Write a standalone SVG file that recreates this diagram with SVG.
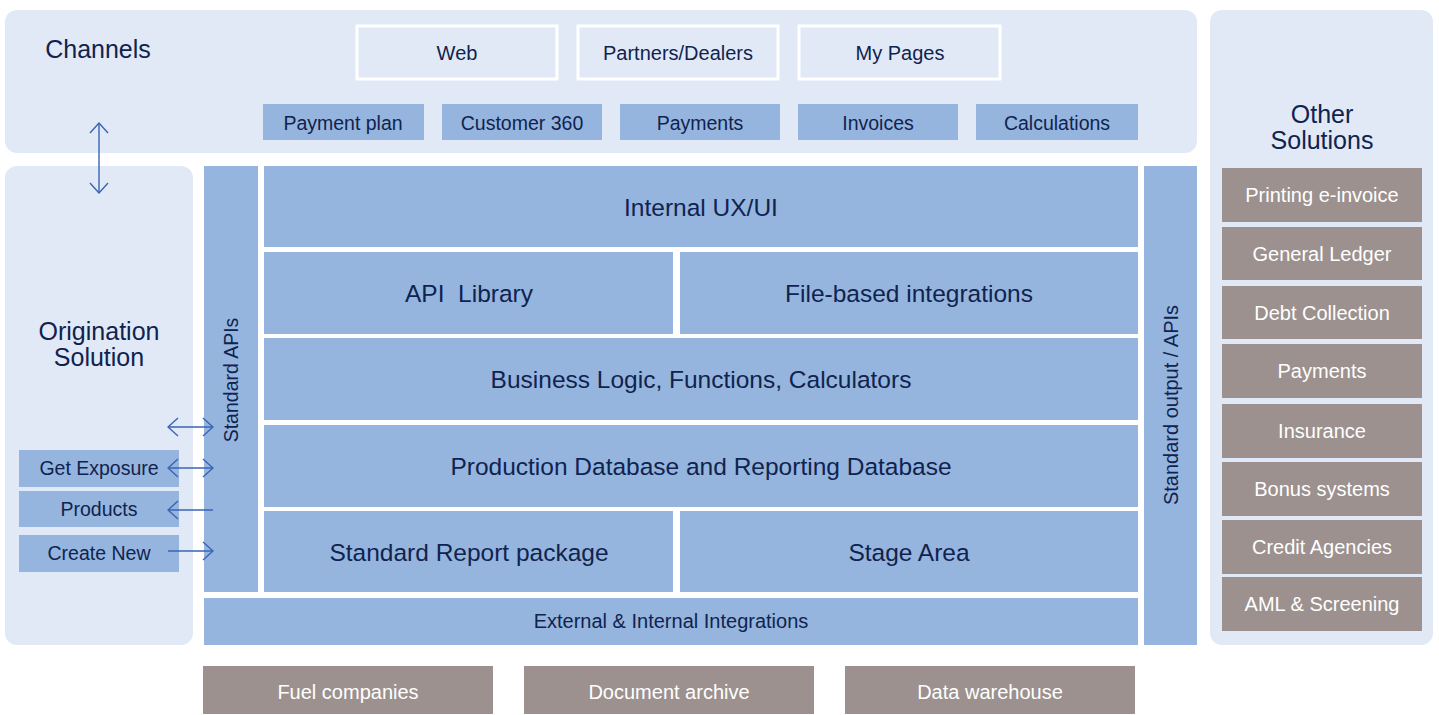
<svg xmlns="http://www.w3.org/2000/svg" width="1439" height="715" viewBox="0 0 1439 715">
<defs>
<style>
.panel{fill:#e1e9f6}
.blue{fill:#95b5de}
.brown{fill:#9c918e}
.ch{fill:#e1e9f6;stroke:#ffffff;stroke-width:3}
text{font-family:"Liberation Sans",Arial,sans-serif;fill:#10234f;text-anchor:middle;dominant-baseline:central}
.s18{font-size:19.5px}
.s20{font-size:20px}
.s22{font-size:24.5px}
.h{font-size:25px}
.w{fill:#ffffff;font-size:20px}
.con{stroke:#3a64b3;stroke-width:1.4;fill:none}
</style>
<marker id="ah" viewBox="0 0 12 20" refX="11" refY="10" markerWidth="12" markerHeight="20" markerUnits="userSpaceOnUse" orient="auto-start-reverse">
<path d="M1,1 L11,10 L1,19" fill="none" stroke="#3a64b3" stroke-width="1.4"/>
</marker>
</defs>
<rect width="1439" height="715" fill="#ffffff"/>

<g id="channels">
<rect class="panel" x="5" y="10" width="1192" height="143" rx="12"/>
<text x="98" y="49" class="h">Channels</text>
</g>
<g id="origination">
<rect class="panel" x="5" y="166" width="188" height="479" rx="12"/>
<text x="99" y="331" class="h">Origination</text>
<text x="99" y="357" class="h">Solution</text>
</g>
<g id="other-solutions">
<rect class="panel" x="1210" y="10" width="223" height="635" rx="12"/>
<text x="1322" y="114" class="h">Other</text>
<text x="1322" y="140" class="h">Solutions</text>
</g>

<g id="web"><rect class="ch" x="357" y="26" width="200" height="53"/><text x="457" y="53" class="s20">Web</text></g>
<g id="partners"><rect class="ch" x="578" y="26" width="200" height="53"/><text x="678" y="53" class="s20">Partners/Dealers</text></g>
<g id="mypages"><rect class="ch" x="799" y="26" width="201" height="53"/><text x="900" y="53" class="s20">My Pages</text></g>

<g id="payment-plan"><rect class="blue" x="263" y="104" width="161" height="36"/><text x="343" y="123" class="s18">Payment plan</text></g>
<g id="customer360"><rect class="blue" x="442" y="104" width="160" height="36"/><text x="522" y="123" class="s18">Customer 360</text></g>
<g id="payments-ch"><rect class="blue" x="620" y="104" width="160" height="36"/><text x="700" y="123" class="s18">Payments</text></g>
<g id="invoices"><rect class="blue" x="798" y="104" width="160" height="36"/><text x="878" y="123" class="s18">Invoices</text></g>
<g id="calculations"><rect class="blue" x="976" y="104" width="162" height="36"/><text x="1057" y="123" class="s18">Calculations</text></g>

<g id="standard-apis"><rect class="blue" x="204" y="166" width="54" height="426"/><text transform="translate(231,380) rotate(-90)" class="s18">Standard APIs</text></g>
<g id="internal-ux"><rect class="blue" x="264" y="166" width="874" height="81"/><text x="701" y="207" class="s22">Internal UX/UI</text></g>
<g id="api-library"><rect class="blue" x="264" y="252" width="409" height="82"/><text x="469" y="293" class="s22" xml:space="preserve">API  Library</text></g>
<g id="file-based"><rect class="blue" x="680" y="252" width="458" height="82"/><text x="909" y="293" class="s22">File-based integrations</text></g>
<g id="business-logic"><rect class="blue" x="264" y="338" width="874" height="82"/><text x="701" y="379" class="s22">Business Logic, Functions, Calculators</text></g>
<g id="production-db"><rect class="blue" x="264" y="425" width="874" height="82"/><text x="701" y="466" class="s22">Production Database and Reporting Database</text></g>
<g id="standard-report"><rect class="blue" x="264" y="511" width="409" height="81"/><text x="469" y="552" class="s22">Standard Report package</text></g>
<g id="stage-area"><rect class="blue" x="680" y="511" width="458" height="81"/><text x="909" y="552" class="s22">Stage Area</text></g>
<g id="ext-int"><rect class="blue" x="204" y="598" width="934" height="47"/><text x="671" y="621" class="s20">External &amp; Internal Integrations</text></g>
<g id="standard-output"><rect class="blue" x="1144" y="166" width="53" height="479"/><text transform="translate(1171,405) rotate(-90)" class="s20">Standard output / APIs</text></g>

<g id="get-exposure"><rect class="blue" x="19" y="450" width="160" height="37"/><text x="99" y="468" class="s18">Get Exposure</text></g>
<g id="products"><rect class="blue" x="19" y="491" width="160" height="36"/><text x="99" y="509" class="s18">Products</text></g>
<g id="create-new"><rect class="blue" x="19" y="535" width="160" height="37"/><text x="99" y="553" class="s18">Create New</text></g>

<g id="fuel"><rect class="brown" x="203" y="666" width="290" height="48"/><text x="348" y="692" class="w">Fuel companies</text></g>
<g id="document-archive"><rect class="brown" x="524" y="666" width="290" height="48"/><text x="669" y="692" class="w">Document archive</text></g>
<g id="data-warehouse"><rect class="brown" x="845" y="666" width="290" height="48"/><text x="990" y="692" class="w">Data warehouse</text></g>

<g id="printing"><rect class="brown" x="1222" y="168" width="200" height="54"/><text x="1322" y="195" class="w">Printing e-invoice</text></g>
<g id="general-ledger"><rect class="brown" x="1222" y="227" width="200" height="53"/><text x="1322" y="254" class="w">General Ledger</text></g>
<g id="debt-collection"><rect class="brown" x="1222" y="286" width="200" height="53"/><text x="1322" y="313" class="w">Debt Collection</text></g>
<g id="payments-os"><rect class="brown" x="1222" y="344" width="200" height="54"/><text x="1322" y="371" class="w">Payments</text></g>
<g id="insurance"><rect class="brown" x="1222" y="404" width="200" height="54"/><text x="1322" y="431" class="w">Insurance</text></g>
<g id="bonus"><rect class="brown" x="1222" y="462" width="200" height="54"/><text x="1322" y="489" class="w">Bonus systems</text></g>
<g id="credit"><rect class="brown" x="1222" y="520" width="200" height="54"/><text x="1322" y="547" class="w">Credit Agencies</text></g>
<g id="aml"><rect class="brown" x="1222" y="577" width="200" height="54"/><text x="1322" y="604" class="w">AML &amp; Screening</text></g>

<g id="connectors">
<line class="con" x1="99" y1="123" x2="99" y2="193" marker-start="url(#ah)" marker-end="url(#ah)"/>
<line class="con" x1="168" y1="427" x2="213" y2="427" marker-start="url(#ah)" marker-end="url(#ah)"/>
<line class="con" x1="168" y1="468" x2="213" y2="468" marker-start="url(#ah)" marker-end="url(#ah)"/>
<line class="con" x1="213" y1="510" x2="168" y2="510" marker-end="url(#ah)"/>
<line class="con" x1="168" y1="551" x2="213" y2="551" marker-end="url(#ah)"/>
</g>
</svg>
